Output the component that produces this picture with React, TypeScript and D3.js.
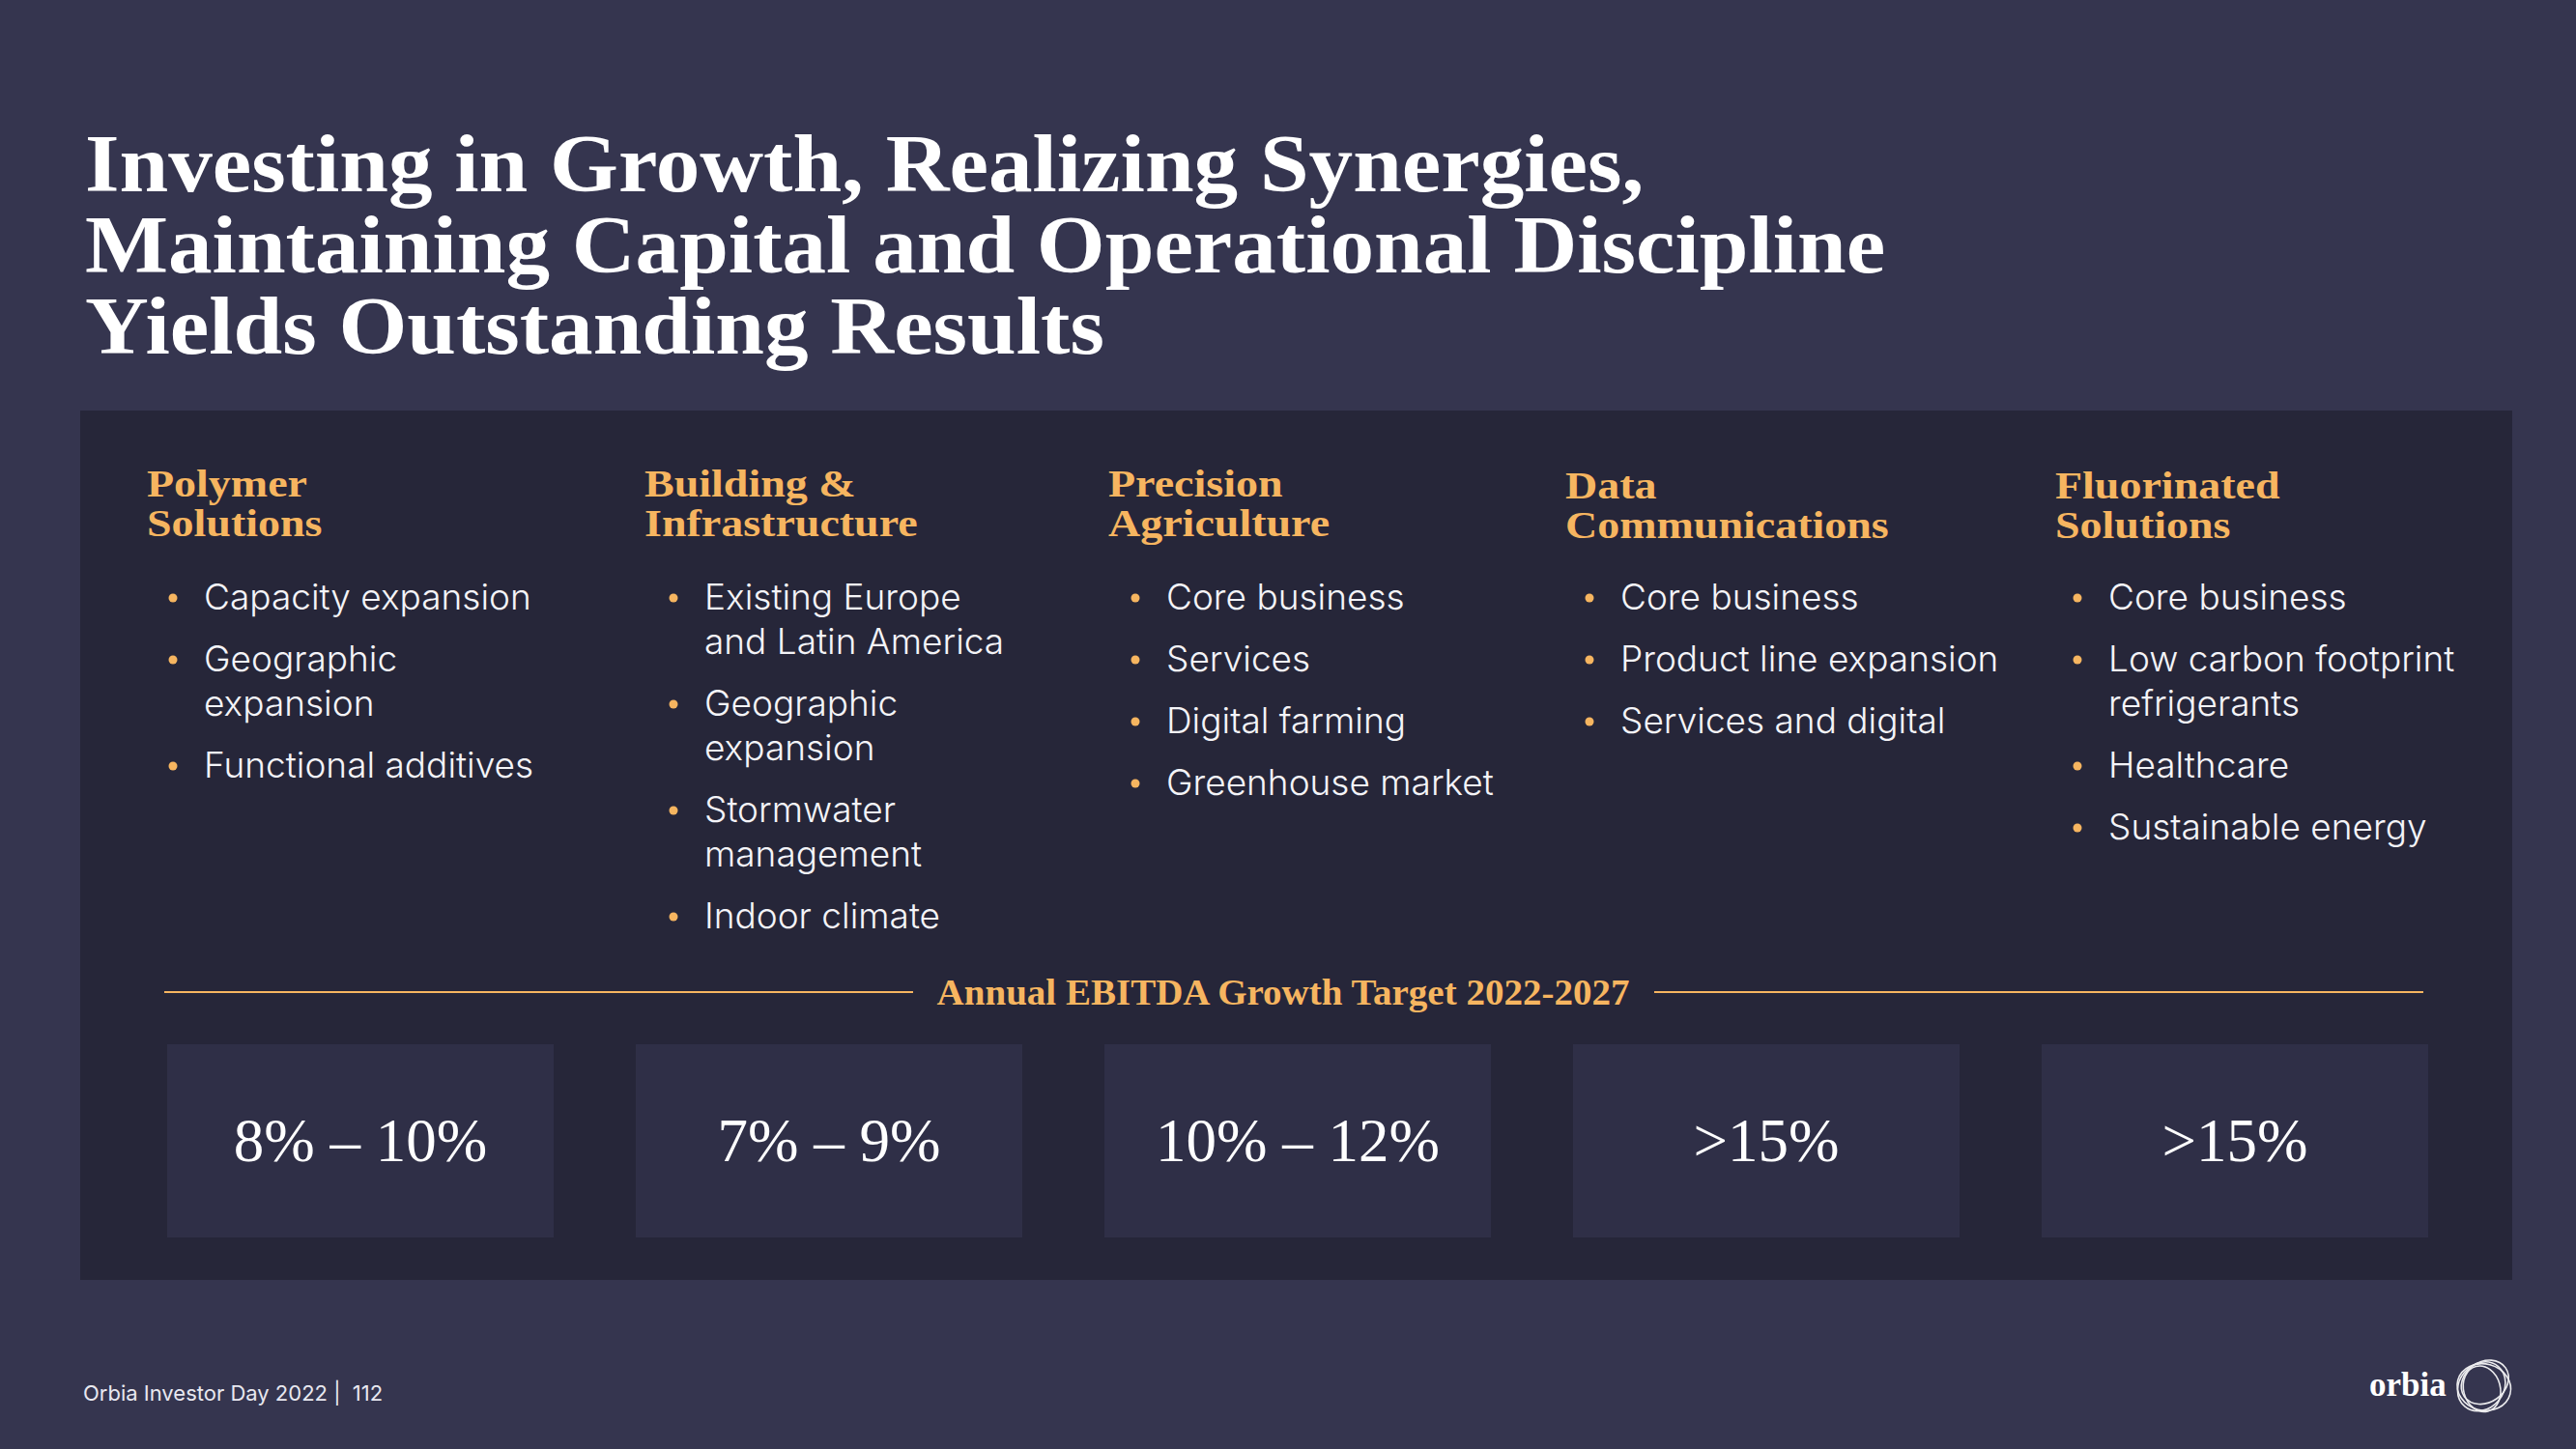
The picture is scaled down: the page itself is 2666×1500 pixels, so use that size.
import React, { useEffect } from "react";
import * as d3 from "d3";

// ---------- data ----------
const titleLines = [
  "Investing in Growth, Realizing Synergies,",
  "Maintaining Capital and Operational Discipline",
  "Yields Outstanding Results",
];
const segments = [
  "Polymer\nSolutions",
  "Building &\nInfrastructure",
  "Precision\nAgriculture",
  "Data\nCommunications",
  "Fluorinated\nSolutions",
];
const segmentBullets: string[][] = [
  ["Capacity expansion", "Geographic\nexpansion", "Functional additives"],
  ["Existing Europe\nand Latin America", "Geographic\nexpansion", "Stormwater\nmanagement", "Indoor climate"],
  ["Core business", "Services", "Digital farming", "Greenhouse market"],
  ["Core business", "Product line expansion", "Services and digital"],
  ["Core business", "Low carbon footprint\nrefrigerants", "Healthcare", "Sustainable energy"],
];
const targetLabel = "Annual EBITDA Growth Target 2022-2027";
const targets = ["8% – 10%", "7% – 9%", "10% – 12%", ">15%", ">15%"];
const footerText = "Orbia Investor Day 2022 |  112";
const logoText = "orbia";

// ---------- layout ----------
const W = 2666;
const H = 1500;
const BG = "#35354f";
const PANEL = "#262639";
const BOX = "#2f2f47";
const ORANGE = "#f6b560";
const WHITE = "#f4f4f8";
const SERIF = "'Liberation Serif', 'DejaVu Serif', serif";
const SANS = "Inter, 'Noto Sans', sans-serif";

const headerX = [152, 667, 1147, 1620, 2127];
const headerY = [514, 514, 514, 516, 516];
const textX = [211, 729, 1207, 1677, 2182];

export default function App() {
  useEffect(() => {
    document.body.style.margin = "0";
    document.body.style.background = BG;
  }, []);

  const xBox = d3
    .scaleBand<string>()
    .domain(targets.map((_, i) => String(i)))
    .range([173, 2513])
    .paddingInner(85 / 485)
    .paddingOuter(0);

  const bulletLayout = segmentBullets.map((items) => {
    let y = 631;
    const out: { line: string; y: number; first: boolean }[] = [];
    items.forEach((item) => {
      item.split("\n").forEach((line, li) => {
        out.push({ line, y, first: li === 0 });
        y += 46;
      });
      y += 18;
    });
    return out;
  });

  // logo rings
  const ringData = [
    { rx: 28, ry: 24, rot: 15, dx: 0, dy: 1 },
    { rx: 26, ry: 21, rot: -35, dx: 3, dy: -3 },
    { rx: 23, ry: 27, rot: 40, dx: -2, dy: 2 },
    { rx: 24, ry: 19, rot: 75, dx: 2, dy: 3 },
  ];

  return (
    <svg width={W} height={H} style={{ display: "block" }} xmlns="http://www.w3.org/2000/svg">
      <rect x={0} y={0} width={W} height={H} fill={BG} />

      {/* title */}
      <g fontFamily={SERIF} fontWeight={700} fontSize={84} fill="#ffffff">
        {titleLines.map((t, i) => (
          <text key={i} transform={`translate(88,${198 + i * 84}) scale(1.085,1)`}>
            {t}
          </text>
        ))}
      </g>

      {/* panel */}
      <rect x={83} y={425} width={2517} height={900} fill={PANEL} />

      {/* headers */}
      <g fontFamily={SERIF} fontWeight={700} fontSize={40} fill={ORANGE}>
        {segments.map((s, i) =>
          s.split("\n").map((line, li) => (
            <text
              key={`${i}-${li}`}
              transform={`translate(${headerX[i]},${headerY[i] + li * 41}) scale(1.15,1)`}
            >
              {line}
            </text>
          ))
        )}
      </g>

      {/* bullets */}
      <g fontFamily={SANS} fontWeight={300} fontSize={37} fill={WHITE}>
        {bulletLayout.map((col, i) =>
          col.map((b, j) => (
            <g key={`${i}-${j}`}>
              {b.first && <circle cx={textX[i] - 32} cy={b.y - 12} r={4.5} fill={ORANGE} />}
              <text x={textX[i]} y={b.y}>
                {b.line}
              </text>
            </g>
          ))
        )}
      </g>

      {/* divider + label */}
      <line x1={170} x2={945} y1={1027} y2={1027} stroke={ORANGE} strokeWidth={2} />
      <line x1={1712} x2={2508} y1={1027} y2={1027} stroke={ORANGE} strokeWidth={2} />
      <text
        transform="translate(1328,1040) scale(1.055,1)"
        textAnchor="middle"
        fontFamily={SERIF}
        fontWeight={700}
        fontSize={37}
        fill={ORANGE}
      >
        {targetLabel}
      </text>

      {/* target boxes */}
      {targets.map((t, i) => {
        const x = xBox(String(i))!;
        const bw = xBox.bandwidth();
        return (
          <g key={i}>
            <rect x={x} y={1081} width={bw} height={200} fill={BOX} />
            <text
              x={x + bw / 2}
              y={1202}
              textAnchor="middle"
              fontFamily={SERIF}
              fontSize={63}
              fill="#ffffff"
            >
              {t}
            </text>
          </g>
        );
      })}

      {/* footer */}
      <text
        x={86}
        y={1450}
        fontFamily={SANS}
        fontSize={22}
        fill="#e8e8f0"
        style={{ whiteSpace: "pre" }}
      >
        {footerText}
      </text>

      {/* logo */}
      <text x={2452} y={1445} fontFamily={SERIF} fontWeight={700} fontSize={35} fill="#ffffff">
        {logoText}
      </text>
      <g transform="translate(2571,1435)" fill="none" stroke="#ffffff" strokeWidth={1.6} opacity={0.9}>
        {ringData.map((r, i) => (
          <ellipse
            key={i}
            cx={r.dx}
            cy={r.dy}
            rx={r.rx}
            ry={r.ry}
            transform={`rotate(${r.rot})`}
          />
        ))}
      </g>
    </svg>
  );
}
